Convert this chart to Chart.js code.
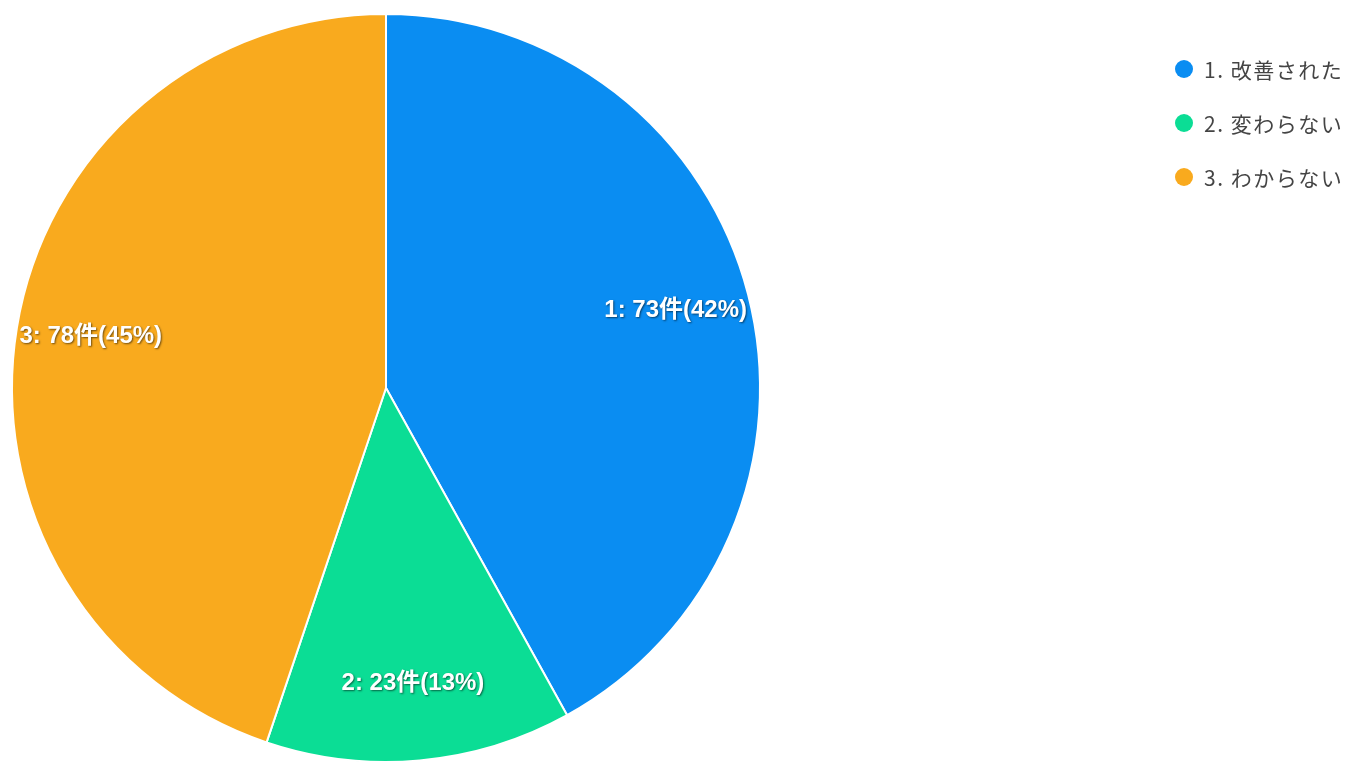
<html>
<head>
<meta charset="utf-8">
<script src="https://cdn.jsdelivr.net/npm/chart.js@4.4.0/dist/chart.umd.min.js"></script>
<style>
html,body{margin:0;padding:0;background:#fff;font-family:"Noto Sans CJK JP","Noto Sans",sans-serif;}
#wrap{position:relative;width:1357px;height:763px;}
#legend{position:absolute;left:1175px;top:42px;}
.item{display:flex;align-items:center;height:54px;font-size:21px;letter-spacing:1.5px;color:#444;}
.dot{width:18px;height:18px;border-radius:50%;margin-right:11px;}
</style>

<script type="text/javascript">

var labels = ["1. 改善された", "2. 変わらない", "3. わからない"];
var counts = [73, 23, 78];
var colors = ["#0a8df2", "#0bdd95", "#f9aa1e"];

var total = 0;
for (var i in counts) total += counts[i];

// white labels inside each slice, like "1: 73件(42%)"
var sliceLabels = {
  id: 'sliceLabels',
  afterDatasetsDraw: function(chart) {
    var ctx = chart.ctx;
    var meta = chart.getDatasetMeta(0);
    ctx.save();
    ctx.font = "bold 24px 'Liberation Sans', Arial, 'Noto Sans CJK JP'";
    ctx.fillStyle = "#fff";
    ctx.textAlign = "center";
    ctx.textBaseline = "middle";
    ctx.shadowColor = "rgba(0,0,0,0.55)";
    ctx.shadowOffsetX = 1;
    ctx.shadowOffsetY = 1;
    ctx.shadowBlur = 2;
    meta.data.forEach(function(arc, n) {
      var mid = (arc.startAngle + arc.endAngle) / 2;
      var d = arc.outerRadius * 0.8;
      var x = arc.x + Math.cos(mid) * d;
      var y = arc.y + Math.sin(mid) * d - 3;
      var pct = Math.round(counts[n] / total * 100);
      ctx.fillText((n + 1) + ": " + counts[n] + "件(" + pct + "%)", x, y);
    });
    ctx.restore();
  }
};

function init() {
  var ctx = document.getElementById("canvasDiv");
  new Chart(ctx, {
    type: 'pie',
    data: {
      labels: labels,
      datasets: [{
        data: counts,
        backgroundColor: colors,
        borderColor: "#fff",
        borderWidth: 2
      }]
    },
    options: {
      responsive: false,
      animation: false,
      layout: {padding: {left: 11, right: 596, top: 13, bottom: 0}},
      plugins: {legend: {display: false}, tooltip: {enabled: false}}
    },
    plugins: [sliceLabels]
  });

  var lg = document.getElementById("legend");
  for (var i in labels) {
    var it = document.createElement("div");
    it.className = "item";
    var dot = document.createElement("span");
    dot.className = "dot";
    dot.style.background = colors[i];
    var tx = document.createElement("span");
    tx.textContent = labels[i];
    it.appendChild(dot);
    it.appendChild(tx);
    lg.appendChild(it);
  }
}

</script>
</head>

<body onLoad="init()">
<div id="wrap">
  <canvas id="canvasDiv" width="1357" height="763"></canvas>
  <div id="legend"></div>
</div>
</body>
</html>
